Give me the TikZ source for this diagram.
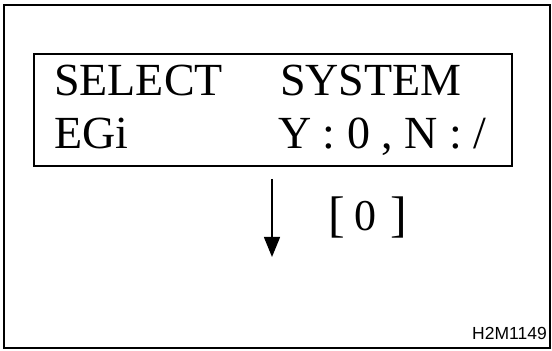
\documentclass[tikz,border=0pt]{standalone}
\usepackage{fontspec}
\setmainfont{Liberation Serif}
\newfontfamily\codefont{Liberation Sans}
\usetikzlibrary{positioning, arrows.meta}
\tikzstyle{frame} = [draw, line width=1.3pt]
\tikzstyle{screen} = [draw, line width=1.3pt]
\tikzstyle{lcd} = [inner sep=0pt, anchor=base west, font=\fontsize{46}{50}\selectfont]
\tikzstyle{key} = [inner sep=0pt, anchor=base west, font=\fontsize{50}{54}\selectfont]
\tikzstyle{code} = [inner sep=0pt, anchor=base east, font=\fontsize{17.5}{19}\codefont]
\tikzstyle{arrow} = [line width=1.5pt, -{Triangle[length=20pt, width=16pt]}]

\begin{document}
\begin{tikzpicture}[x=1pt, y=1pt]

  \useasboundingbox (0,0) rectangle (552,351);

  % Outer frame and display box
  \draw[frame] (4,3) rectangle (550,346);
  \draw[screen] (34,185) rectangle (512,297);

  % Display text
  \node (select) [lcd] at (54,255) {SELECT};
  \node (system) [lcd] at (280,255) {SYSTEM};
  \node (egi) [lcd] at (54,202) {EGi};
  \node (yn) [lcd] at (278,202) {Y : 0 , N : /};

  % Key press
  \coordinate (arrtop) at (272,172);
  \coordinate (arrtip) at (272,94);
  \draw[arrow] (arrtop) -- (arrtip);
  \node (keyzero) [key] at (328,119)
    {[\hspace{9.5pt}\raisebox{1pt}{\fontsize{44}{48}\selectfont 0}\hspace{14.5pt}]};

  % Figure code
  \node (figcode) [code] at (547,12) {H2M1149};

\end{tikzpicture}
\end{document}
